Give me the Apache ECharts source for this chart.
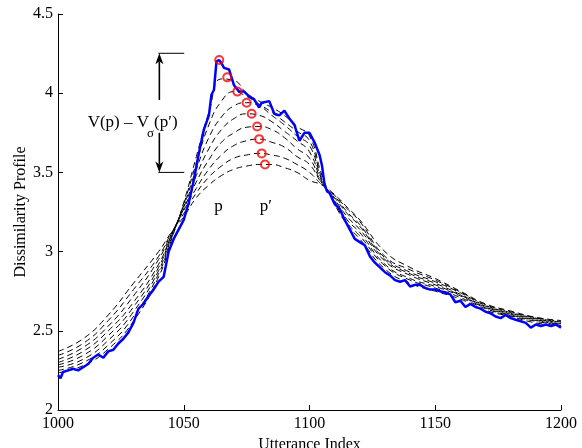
<!DOCTYPE html>
<html><head><meta charset="utf-8">
<script src="https://cdn.jsdelivr.net/npm/echarts@6/dist/echarts.min.js"></script>
<style>html,body{margin:0;padding:0;background:#fff}#c{width:582px;height:448px}</style>
</head><body><div id="c"></div>
<script>
// ---- data ----
const xTitle = 'Utterance Index';
const yTitle = 'Dissimilarity Profile';

const blueX = [1000,1001,1002,
 1004,1006,1008,1010,1012,1014,1016,1018,1020,1022,1024,1026,1028,1030,1032,1034,1036,1038,1040,1042,1044,1046,1048,1050,1052,1054,1056,1058,1060,
 1061,1062,1063,1064,1065,1066,
 1068,1070,1072,1074,1076,1078,1080,
 1081,
 1084,1086,1088,1090,1092,1094,1096,1098,1100,1102,1104,
 1105,1106,1107,
 1108,1110,1112,1114,1116,1118,1120,1122,1124,1126,1128,1130,1132,1134,1136,1138,1140,1142,1144,1146,1148,1150,1152,1154,1156,1158,1160,1162,1164,1166,1168,1170,1172,1174,1176,1178,1180,1182,1184,1186,1188,1190,1192,1194,1196,1198,1200];
const blueY = [2.22,2.20,2.24,
 2.25,2.26,2.25,2.27,2.29,2.33,2.35,2.33,2.37,2.38,2.42,2.45,2.49,2.55,2.64,2.67,2.72,2.76,2.81,2.84,3.00,3.08,3.14,3.20,3.31,3.45,3.62,3.77,3.86,
 3.99,4.02,4.20,4.21,4.19,4.16,
 4.15,4.05,4.01,4.01,3.98,3.96,3.91,
 3.94,
 3.95,3.87,3.86,3.89,3.84,3.80,3.70,3.75,3.75,3.69,3.61,
 3.54,3.42,3.38,
 3.37,3.30,3.27,3.20,3.14,3.08,3.06,3.04,2.97,2.93,2.90,2.87,2.85,2.82,2.81,2.82,2.78,2.79,2.79,2.77,2.76,2.76,2.75,2.74,2.73,2.68,2.69,2.65,2.67,2.65,2.64,2.62,2.61,2.59,2.58,2.60,2.58,2.57,2.56,2.55,2.52,2.54,2.53,2.54,2.53,2.54,2.52];

const dashX = [1000,1010,1020,1030,1040,1045,1050,1055,1060,1065,1070,1075,1080,1085,1090,1095,1100,1105,1110,1115,1120,1130,1140,1150,1160,1170,1180,1190,1200];
const dash1 = [2.235,2.28,2.385,2.56,2.84,3.07,3.31,3.60,3.88,4.09,4.08,4.00,3.95,3.91,3.86,3.79,3.73,3.48,3.30,3.17,3.08,2.89,2.80,2.75,2.70,2.63,2.59,2.55,2.53];
const dash2 = [2.25,2.30,2.41,2.59,2.86,3.08,3.30,3.56,3.80,3.95,4.01,3.98,3.93,3.88,3.82,3.76,3.70,3.46,3.31,3.18,3.10,2.91,2.82,2.77,2.71,2.64,2.595,2.56,2.535];
const dash3 = [2.27,2.32,2.44,2.62,2.88,3.09,3.29,3.52,3.72,3.85,3.92,3.94,3.92,3.86,3.80,3.73,3.67,3.45,3.32,3.20,3.12,2.92,2.83,2.78,2.72,2.645,2.60,2.565,2.54];
const dash4 = [2.285,2.345,2.47,2.65,2.90,3.10,3.28,3.48,3.65,3.77,3.84,3.87,3.86,3.82,3.76,3.70,3.63,3.44,3.33,3.22,3.14,2.94,2.85,2.79,2.725,2.65,2.605,2.57,2.545];
const dash5 = [2.30,2.37,2.50,2.68,2.92,3.10,3.27,3.44,3.58,3.69,3.75,3.785,3.79,3.77,3.72,3.65,3.59,3.43,3.34,3.24,3.16,2.95,2.86,2.80,2.73,2.655,2.61,2.575,2.55];
const dash6 = [2.32,2.395,2.53,2.72,2.95,3.11,3.26,3.40,3.52,3.61,3.67,3.70,3.71,3.69,3.66,3.60,3.55,3.43,3.35,3.25,3.17,2.96,2.87,2.81,2.74,2.66,2.615,2.58,2.555];
const dash7 = [2.345,2.42,2.565,2.76,2.97,3.115,3.24,3.37,3.47,3.54,3.59,3.61,3.62,3.61,3.59,3.55,3.50,3.42,3.355,3.27,3.19,2.97,2.885,2.82,2.745,2.665,2.62,2.583,2.56];
const dash8 = [2.37,2.45,2.60,2.80,3.00,3.12,3.22,3.34,3.42,3.48,3.52,3.54,3.55,3.55,3.53,3.50,3.45,3.42,3.36,3.28,3.20,3.00,2.90,2.83,2.75,2.67,2.625,2.585,2.565];
const dashCurves = [dash1,dash2,dash3,dash4,dash5,dash6,dash7,dash8];

const peakX = [1064.1,1067.3,1071.3,1075.0,1077.0,1079.2,1080.0,1081.0,1082.3];
const peakY = [4.21,4.10,4.01,3.94,3.87,3.79,3.71,3.62,3.55];

// annotation text and anchors (data units)
const annoMain = 'V(p) – V', annoSub = 'σ', annoTail = '(p′)';
const annoJoin = [1036.2, 3.817];
const pLabel = 'p', pLabelPos = [1063.8, 3.285];
const ppLabel = 'p′', ppLabelPos = [1082.6, 3.285];
const arrowX = 1040.3, arrowTop = 4.252, arrowBot = 3.50, gapTop = 3.957, gapBot = 3.75;
const bracketX1 = 1039.9, bracketX2 = 1050.2;

// ---- chart ----
const FONT = 'Liberation Serif';
const pair = (xs, ys) => xs.map((x, i) => [x, ys[i]]);

const series = dashCurves.map((c, i) => ({
  type: 'line', name: 'sigma' + (i + 1), data: pair(dashX, c),
  smooth: true, showSymbol: false, symbol: 'none', silent: true,
  lineStyle: { color: '#000', width: 1, type: [6, 4] }, z: 2
}));
series.push({
  type: 'line', name: 'profile', data: pair(blueX, blueY), showSymbol: false, symbol: 'none',
  lineStyle: { color: '#0000ff', width: 2.5 }, z: 3
});
series.push({
  type: 'scatter', name: 'peaks', data: pair(peakX, peakY), symbol: 'circle', symbolSize: 8,
  itemStyle: { color: 'rgba(0,0,0,0)', borderColor: '#ff0000', borderWidth: 2 }, z: 4
});

const axisCommon = {
  type: 'value',
  axisLine: { show: true, lineStyle: { color: '#000', width: 1 } },
  axisTick: { show: true, inside: true, length: 5, lineStyle: { color: '#000' } },
  splitLine: { show: false },
  nameLocation: 'middle',
  nameMoveOverlap: false,
  nameTextStyle: { fontFamily: FONT, fontSize: 16, color: '#000' }
};

const option = {
  animation: false,
  backgroundColor: '#fff',
  grid: { left: 58, right: 21, top: 14, bottom: 38, containLabel: false, outerBoundsMode: 'none' },
  xAxis: Object.assign({}, axisCommon, {
    min: 1000, max: 1200, interval: 50, name: xTitle, nameGap: 27,
    axisLabel: { fontFamily: FONT, fontSize: 16, color: '#000', margin: 6, formatter: v => String(v) }
  }),
  yAxis: Object.assign({}, axisCommon, {
    min: 2, max: 4.5, interval: 0.5, name: yTitle, nameGap: 29,
    axisLabel: { fontFamily: FONT, fontSize: 16, color: '#000', margin: 5, formatter: v => String(v) }
  }),
  series: series
};

const chart = echarts.init(document.getElementById('c'), null, { renderer: 'canvas' });
chart.setOption(option);

const P = (x, y) => chart.convertToPixel({ gridIndex: 0 }, [x, y]);
const ax = P(arrowX, arrowTop), ab = P(arrowX, arrowBot), ag1 = P(arrowX, gapTop), ag2 = P(arrowX, gapBot);
const b1a = P(bracketX1, arrowTop), b1b = P(bracketX2, arrowTop);
const b2a = P(bracketX1, arrowBot), b2b = P(bracketX2, arrowBot);
const tj = P(annoJoin[0], annoJoin[1]);
const pp = P(pLabelPos[0], pLabelPos[1]);
const ppp = P(ppLabelPos[0], ppLabelPos[1]);
const mctx = document.createElement('canvas').getContext('2d');
mctx.font = '13px "Liberation Serif"';
const subW = mctx.measureText(annoSub).width;
const hl = 11, hw = 4, notch = 8;
const lineSt = { stroke: '#000', lineWidth: 1 };
const txt = (x, y, text, align, size) => ({ type: 'text', x: x, y: y, style: {
  text: text, align: align, verticalAlign: 'middle', fill: '#000', fontFamily: FONT, fontSize: size } });
chart.setOption({
  graphic: [
    { type: 'line', shape: { x1: b1a[0], y1: b1a[1], x2: b1b[0], y2: b1b[1] }, style: lineSt },
    { type: 'line', shape: { x1: b2a[0], y1: b2a[1], x2: b2b[0], y2: b2b[1] }, style: lineSt },
    { type: 'line', shape: { x1: ax[0], y1: ax[1] + notch, x2: ag1[0], y2: ag1[1] }, style: { stroke: '#000', lineWidth: 1.6 } },
    { type: 'line', shape: { x1: ag2[0], y1: ag2[1], x2: ab[0], y2: ab[1] - notch }, style: { stroke: '#000', lineWidth: 1.6 } },
    { type: 'polygon', shape: { points: [[ax[0], ax[1]], [ax[0] + hw, ax[1] + hl], [ax[0], ax[1] + notch], [ax[0] - hw, ax[1] + hl]] }, style: { fill: '#000' } },
    { type: 'polygon', shape: { points: [[ab[0], ab[1]], [ab[0] + hw, ab[1] - hl], [ab[0], ab[1] - notch], [ab[0] - hw, ab[1] - hl]] }, style: { fill: '#000' } },
    txt(tj[0], tj[1], annoMain, 'right', 17),
    txt(tj[0] - 2, tj[1] + 11, annoSub, 'left', 13),
    txt(tj[0] - 2 + subW, tj[1], annoTail, 'left', 17),
    txt(pp[0], pp[1], pLabel, 'center', 17),
    txt(ppp[0], ppp[1], ppLabel, 'center', 17)
  ]
});
</script>
</body></html>
